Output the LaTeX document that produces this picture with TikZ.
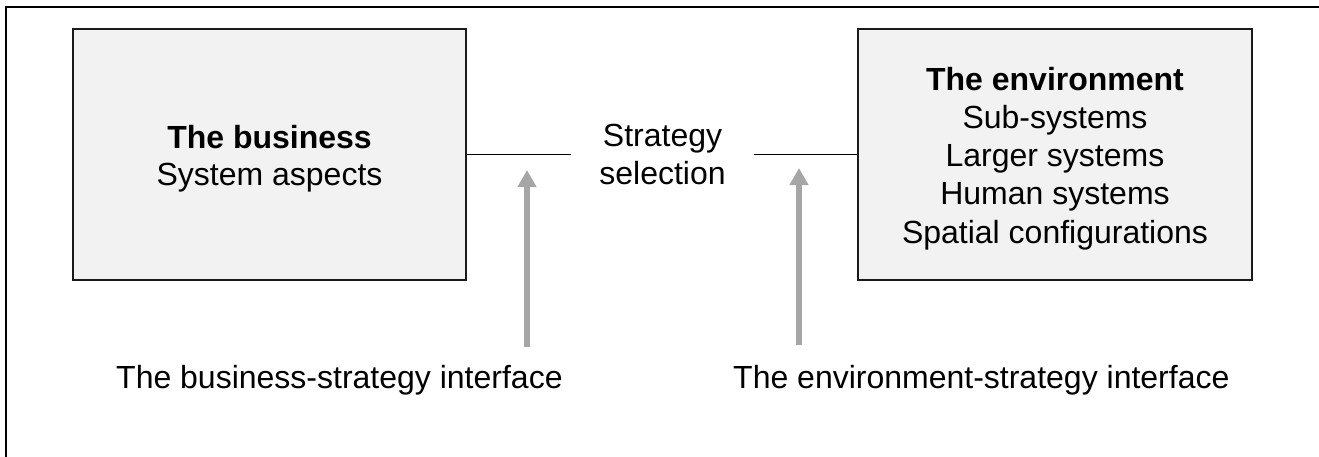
\documentclass[tikz,border=0pt]{standalone}
\usepackage{fontspec}
\setmainfont{Liberation Sans}
\usetikzlibrary{arrows.meta}
\definecolor{boxfill}{HTML}{F2F2F2}
\definecolor{boxline}{HTML}{1A1A1A}
\definecolor{arrowgray}{HTML}{A6A6A6}

\begin{document}
\begin{tikzpicture}[x=1pt,y=-1pt,
  sysbox/.style={draw=boxline, line width=1.5pt, fill=boxfill, inner sep=0pt},
  boxtext/.style={align=center, inner sep=0pt, font=\fontsize{32}{38}\selectfont},
  link/.style={draw=black, line width=1.3pt},
  pointer/.style={draw=arrowgray, line width=6pt, -{Triangle[width=18pt,length=17pt]}},
  caption/.style={inner sep=0pt, anchor=base west, font=\fontsize{32}{38}\selectfont}]
\useasboundingbox (0,0) rectangle (1319,456);

% outer frame (left and top edges)
\draw[line width=2.2pt] (6,460) -- (6,7) -- (1325,7);

% the two system boxes
\node[sysbox, minimum width=393pt, minimum height=251pt] (biz) at (269.5,154.5) {};
\node[sysbox, minimum width=394pt, minimum height=251pt] (env) at (1055,154.5) {};

% box contents
\node[boxtext, font=\fontsize{32}{37.5}\selectfont] (biztext) at (269.5,158.7)
  {\textbf{The business}\\System aspects};
\node[boxtext, font=\fontsize{32}{38.25}\selectfont] (envtext) at (1055,158.4)
  {\textbf{The environment}\\Sub-systems\\Larger systems\\Human systems\\Spatial configurations};

% strategy selection in the middle
\node[boxtext, minimum width=183pt] (strat) at (662.5,154.5) {Strategy\\selection};

% connecting lines
\draw[link] (biz.east) -- (strat.west);
\draw[link] (strat.east) -- (env.west);

% interface arrows
\coordinate (bizfoot) at (527,347);
\coordinate (bizhead) at (527,170);
\coordinate (envfoot) at (799,345);
\coordinate (envhead) at (799,168);
\draw[pointer] (bizfoot) -- (bizhead);
\draw[pointer] (envfoot) -- (envhead);

% interface captions
\node[caption] (bizcap) at (116,388) {The business-strategy interface};
\node[caption] (envcap) at (733,388) {The environment-strategy interface};
\end{tikzpicture}
\end{document}
